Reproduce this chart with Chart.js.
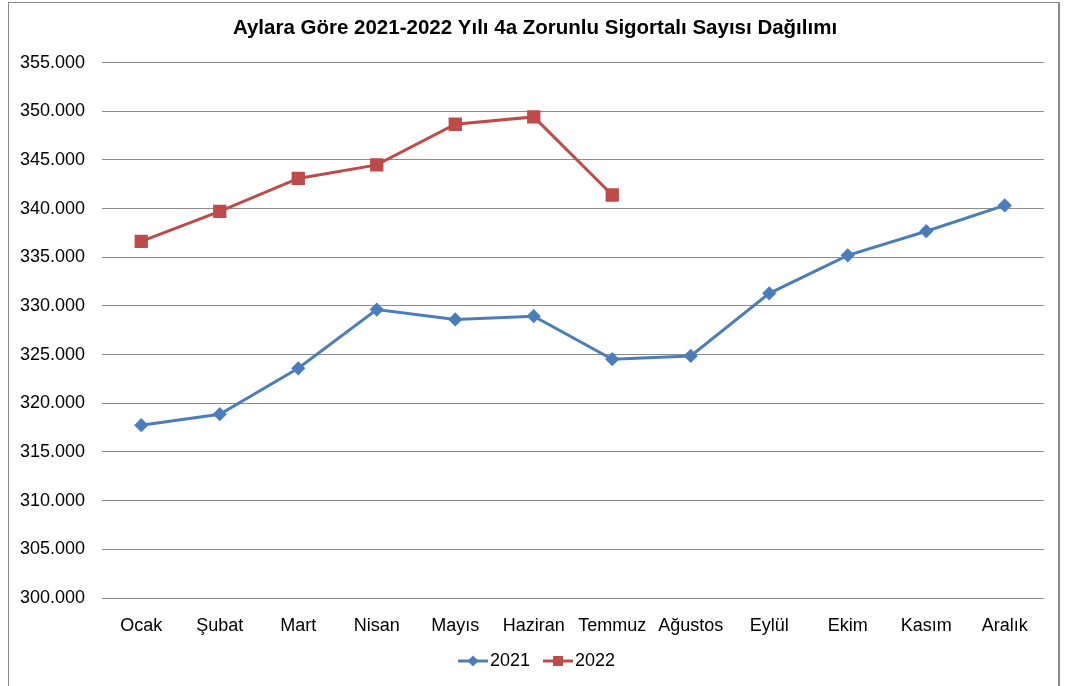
<!DOCTYPE html>
<html>
<head>
<meta charset="utf-8">
<script src="https://cdn.jsdelivr.net/npm/chart.js@4.4.1/dist/chart.umd.min.js"></script>
<style>
  html, body { margin: 0; padding: 0; background: #ffffff; overflow: hidden; }
  #wrap { position: relative; width: 1065px; height: 686px; }
  #frame { position: absolute; left: 8px; top: 2px; width: 1052px; height: 700px;
           border: 1px solid #8a8a8a; border-right-width: 2px; box-sizing: border-box; }
  canvas { position: absolute; left: 0; top: 0; }
</style>
</head>
<body>
<div id="wrap">
  <div id="frame"></div>
  <canvas id="c" width="1065" height="686"></canvas>
</div>
<script>
const chartTitle = 'Aylara Göre 2021-2022 Yılı 4a Zorunlu Sigortalı Sayısı Dağılımı';
const months = ['Ocak', 'Şubat', 'Mart', 'Nisan', 'Mayıs', 'Haziran', 'Temmuz', 'Ağustos', 'Eylül', 'Ekim', 'Kasım', 'Aralık'];
const seriesNames = ['2021', '2022'];
const values2021 = [317750, 318880, 323600, 329630, 328610, 328950, 324530, 324870, 331300, 335200, 337680, 340330];
const values2022 = [336630, 339710, 343100, 344490, 348670, 349420, 341400];
const yMin = 300000;
const yMax = 355000;
const yStep = 5000;

const blue = '#4a7ebb';
const red = '#be4b48';
const fontFamily = '"Liberation Sans", Arial, sans-serif';

function fmt(v) {
  const s = String(Math.round(v));
  return s.replace(/\B(?=(\d{3})+(?!\d))/g, '.');
}

function legendIcon(color, style) {
  const c = document.createElement('canvas');
  c.width = 30; c.height = 14;
  const g = c.getContext('2d');
  g.strokeStyle = color; g.fillStyle = color; g.lineWidth = 3;
  g.beginPath(); g.moveTo(0, 7); g.lineTo(30, 7); g.stroke();
  if (style === 'rect') {
    g.fillRect(10, 2, 10, 10);
  } else {
    g.beginPath(); g.moveTo(15, 1.5); g.lineTo(20.5, 7); g.lineTo(15, 12.5); g.lineTo(9.5, 7); g.closePath(); g.fill();
  }
  return c;
}
const icons = [legendIcon(blue, 'rectRot'), legendIcon(red, 'rect')];

// Shift title and legend so they are placed like the reference
const shiftBlocks = {
  id: 'shiftBlocks',
  afterLayout(chart) {
    const t = chart.titleBlock, l = chart.legend;
    if (t) { t.left += 8.5; t.right += 8.5; }
    if (l) { l.left += 13.5; l.right += 13.5; l.top -= 6; l.bottom -= 6; }
  }
};

new Chart(document.getElementById('c'), {
  type: 'line',
  data: {
    labels: months,
    datasets: [
      { label: seriesNames[0], data: values2021, borderColor: blue, backgroundColor: blue,
        borderWidth: 3, pointStyle: 'rectRot', pointRadius: 5, pointHoverRadius: 5, tension: 0 },
      { label: seriesNames[1], data: values2022, borderColor: red, backgroundColor: red,
        borderWidth: 3, pointStyle: 'rect', pointRadius: 7.3, pointHoverRadius: 7.3, tension: 0 }
    ]
  },
  plugins: [shiftBlocks],
  options: {
    responsive: false,
    animation: false,
    devicePixelRatio: 1,
    layout: { padding: { left: 9, right: 21, top: 0, bottom: 0 } },
    plugins: {
      tooltip: { enabled: false },
      title: {
        display: true, text: chartTitle, color: '#000',
        font: { family: fontFamily, size: 20.5, weight: 'bold' },
        padding: { top: 16, bottom: 22 }
      },
      legend: {
        position: 'bottom',
        labels: {
          usePointStyle: true,
          pointStyleWidth: 16,
          boxHeight: 14,
          color: '#000',
          font: { family: fontFamily, size: 18 },
          padding: 20,
          generateLabels: (chart) => chart.data.datasets.map((d, i) => ({
            text: d.label, pointStyle: icons[i], fillStyle: d.borderColor,
            strokeStyle: d.borderColor, lineWidth: 0, hidden: false, datasetIndex: i, fontColor: '#000'
          }))
        }
      }
    },
    scales: {
      x: {
        offset: true,
        grid: { display: false, drawTicks: false },
        border: { display: false },
        ticks: { color: '#000', font: { family: fontFamily, size: 18 }, padding: 17, maxRotation: 0, autoSkip: false },
        afterFit: (s) => { s.height = 40; }
      },
      y: {
        min: yMin, max: yMax,
        grid: { color: '#8c8c8c', lineWidth: 1, drawTicks: false },
        border: { display: false },
        ticks: { stepSize: yStep, color: '#000', font: { family: fontFamily, size: 18 }, padding: 17,
                 callback: (v) => fmt(v) },
        afterFit: (s) => { s.width = 93; }
      }
    }
  }
});
</script>
</body>
</html>
